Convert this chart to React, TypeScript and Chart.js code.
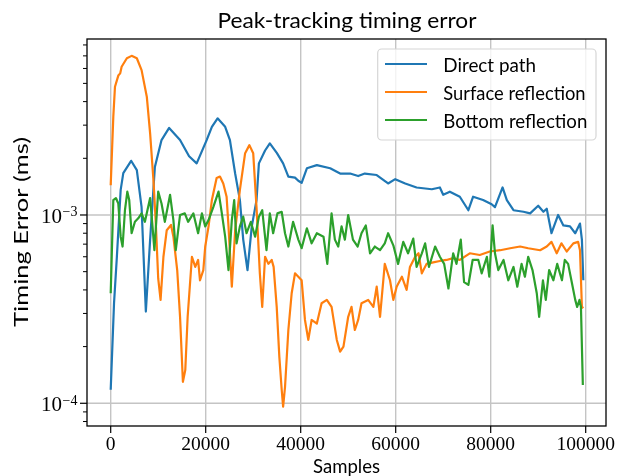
import React, { useEffect, useRef } from "react";
import { Chart, registerables } from "chart.js";

Chart.register(...registerables);

// ---------------- data ----------------
const directSamples = [
  0, 700, 1300, 2100, 2650, 4300, 5500, 6500, 7400, 8300, 9300, 10700, 12300, 14600, 16500,
  18100, 20200, 21300, 22500, 24100, 25100, 26200, 27200, 27900, 28800, 29700, 30700, 31200,
  32500, 33500, 35000, 36300, 37400, 38800, 39500, 40200, 41300, 43400, 46200, 48300, 50400,
  52100, 53500, 56000, 58400, 59900, 62000, 64400, 67600, 69300, 70000, 71400, 73500, 75300,
  76300, 78400, 80200, 80900, 82500, 83400, 84800, 86900, 88300, 90000, 91100, 91800, 92800,
  94200, 95300, 96700, 97800, 98800, 99200, 99500,
];
const directError = [
  1.18e-4, 3.4e-4, 6.0e-4, 1.36e-3, 1.67e-3, 1.94e-3, 1.73e-3, 1.1e-3, 3.07e-4, 7.4e-4, 1.8e-3,
  2.5e-3, 2.9e-3, 2.5e-3, 2.05e-3, 1.88e-3, 2.5e-3, 2.94e-3, 3.26e-3, 2.94e-3, 2.5e-3, 1.66e-3,
  1.2e-3, 7.4e-4, 5.1e-4, 8.7e-4, 1.2e-3, 1.88e-3, 2.2e-3, 2.4e-3, 2.13e-3, 1.88e-3, 1.6e-3,
  1.58e-3, 1.52e-3, 1.48e-3, 1.77e-3, 1.84e-3, 1.77e-3, 1.66e-3, 1.66e-3, 1.61e-3, 1.66e-3,
  1.63e-3, 1.47e-3, 1.55e-3, 1.47e-3, 1.4e-3, 1.37e-3, 1.4e-3, 1.28e-3, 1.33e-3, 1.25e-3,
  1.06e-3, 1.25e-3, 1.2e-3, 1.14e-3, 1.1e-3, 1.4e-3, 1.2e-3, 1.06e-3, 1.04e-3, 1.02e-3, 1.12e-3,
  1.04e-3, 1.08e-3, 8.0e-4, 1.0e-3, 8.8e-4, 8.7e-4, 8.0e-4, 9.0e-4, 7.4e-4, 4.5e-4,
];

const surfaceSamples = [
  0, 550, 900, 1600, 2000, 2300, 3400, 4400, 5500, 6500, 7600, 8300, 9000, 9500, 10000, 10500,
  11100, 11800, 12700, 13200, 14000, 14600, 15200, 15700, 16200, 17100, 17800, 18400, 18800,
  19500, 19900, 20600, 21300, 22300, 23000, 23700, 24400, 24800, 25500, 26200, 27200, 28300,
  29200, 30000, 30700, 31400, 31900, 32500, 33200, 33900, 34300, 34950, 35500, 36000, 36300,
  36700, 37400, 38100, 38800, 39500, 40200, 40900, 41600, 42300, 43400, 44400, 45500, 46500,
  47600, 48300, 49000, 50000, 50700, 51400, 52100, 52800, 54200, 55300, 56000, 56700, 57700,
  58800, 59500, 60200, 61300, 62300, 63000, 64100, 64800, 65500, 66500, 67900, 69300, 70700,
  72100, 73500, 75600, 77700, 79800, 82000, 84100, 86200, 87900, 90400, 91800, 92800, 93900,
  94900, 96000, 97400, 98400, 98800, 99200, 99500,
];
const surfaceError = [
  1.44e-3, 3.33e-3, 4.8e-3, 5.5e-3, 5.65e-3, 6.13e-3, 6.8e-3, 7.0e-3, 6.8e-3, 5.88e-3, 4.25e-3,
  2.71e-3, 1.53e-3, 9.0e-4, 4.6e-4, 3.54e-4, 6.0e-4, 8.3e-4, 8.85e-4, 7.67e-4, 5.1e-4, 2.88e-4,
  1.3e-4, 1.5e-4, 2.88e-4, 6.0e-4, 5.3e-4, 5.77e-4, 4.5e-4, 5.1e-4, 6.8e-4, 8.7e-4, 1.2e-3,
  1.57e-3, 1.6e-3, 1.47e-3, 1.25e-3, 8.7e-4, 4.16e-4, 8.3e-4, 1.36e-3, 2.13e-3, 2.35e-3, 2.13e-3,
  1.1e-3, 4.9e-4, 3.25e-4, 6.0e-4, 5.5e-4, 5.77e-4, 5.3e-4, 3.25e-4, 1.77e-4, 1.18e-4, 9.6e-5,
  1.22e-4, 2.45e-4, 3.84e-4, 4.9e-4, 4.7e-4, 4.5e-4, 2.77e-4, 2.17e-4, 2.77e-4, 2.65e-4, 3.4e-4,
  3.54e-4, 3.25e-4, 2.17e-4, 1.88e-4, 2.0e-4, 2.88e-4, 3.25e-4, 2.45e-4, 2.77e-4, 3.4e-4,
  3.54e-4, 3.25e-4, 4.16e-4, 2.88e-4, 5.5e-4, 4.5e-4, 3.54e-4, 4.16e-4, 4.7e-4, 4.0e-4, 5.3e-4,
  6.0e-4, 6.26e-4, 4.9e-4, 5.5e-4, 5.6e-4, 5.7e-4, 5.77e-4, 5.9e-4, 5.77e-4, 6.26e-4, 6.13e-4,
  6.4e-4, 6.5e-4, 6.66e-4, 6.8e-4, 6.66e-4, 6.5e-4, 6.8e-4, 7.2e-4, 6.26e-4, 7.07e-4, 6.4e-4,
  7.07e-4, 7.2e-4, 6.5e-4, 3.25e-4, 3.2e-4,
];

const bottomSamples = [
  0, 550, 1100, 1600, 2100, 2500, 3000, 3500, 3900, 4400, 5100, 5800, 6500, 7200, 8300, 8800,
  9200, 10000, 10700, 11400, 12500, 13200, 13700, 14600, 15600, 16300, 17400, 18400, 19200,
  19900, 20600, 21600, 22700, 23400, 24100, 24800, 25500, 26000, 26500, 27200, 27900, 28600,
  29500, 30400, 31200, 31900, 32800, 33500, 34200, 35100, 36000, 36700, 37400, 38400, 39500,
  40200, 41300, 42300, 43400, 44800, 45600, 46500, 47200, 47900, 48600, 49300, 50000, 51000,
  52000, 52800, 53700, 54600, 55600, 56700, 57700, 58400, 59500, 60500, 61600, 62600, 63700,
  64400, 65500, 66200, 67000, 68300, 69300, 70200, 71100, 72100, 72800, 73700, 74400, 75300,
  76200, 77400, 78100, 79200, 79700, 80400, 80900, 81600, 82700, 83700, 84800, 85600, 86500,
  87200, 87900, 88800, 89700, 90200, 91000, 91600, 92300, 93200, 94000, 95000, 95600, 96300,
  97100, 97800, 98200, 98700, 99000, 99400,
];
const bottomError = [
  3.84e-4, 1.2e-3, 1.23e-3, 1.15e-3, 7.67e-4, 6.8e-4, 1.06e-3, 1.33e-3, 1.2e-3, 8.0e-4, 9.2e-4,
  9.6e-4, 1.02e-3, 9.2e-4, 1.23e-3, 8.7e-4, 6.5e-4, 1.33e-3, 1.15e-3, 9.2e-4, 1.28e-3, 9.4e-4,
  6.5e-4, 1.0e-3, 1.02e-3, 9.2e-4, 1.02e-3, 8.0e-4, 1.02e-3, 8.7e-4, 9.4e-4, 1.1e-3, 1.33e-3,
  1.02e-3, 7.67e-4, 5.1e-4, 9.4e-4, 1.2e-3, 7.07e-4, 8.7e-4, 9.8e-4, 8.0e-4, 9.2e-4, 7.67e-4,
  9.8e-4, 1.06e-3, 6.5e-4, 1.02e-3, 8.0e-4, 1.02e-3, 1.04e-3, 8.0e-4, 6.8e-4, 9.2e-4, 7.4e-4,
  6.66e-4, 8.5e-4, 7.07e-4, 8.0e-4, 7.67e-4, 5.5e-4, 1.02e-3, 7.4e-4, 6.8e-4, 8.7e-4, 7.4e-4,
  1.0e-3, 7.4e-4, 6.8e-4, 8.0e-4, 8.8e-4, 6.26e-4, 6.8e-4, 6.5e-4, 7.07e-4, 8.0e-4, 6.9e-4,
  5.5e-4, 7.2e-4, 6.26e-4, 7.5e-4, 5.3e-4, 6.26e-4, 7.07e-4, 5.3e-4, 6.8e-4, 6.0e-4, 5.5e-4,
  4.07e-4, 6.26e-4, 5.5e-4, 7.4e-4, 4.4e-4, 4.25e-4, 5.77e-4, 5.77e-4, 4.9e-4, 6.0e-4, 4.7e-4,
  8.8e-4, 6.26e-4, 5.1e-4, 5.77e-4, 4.5e-4, 5.3e-4, 4.16e-4, 5.5e-4, 4.7e-4, 6.0e-4, 5.1e-4,
  3.84e-4, 2.88e-4, 4.5e-4, 3.54e-4, 5.1e-4, 4.5e-4, 5.5e-4, 4.5e-4, 5.77e-4, 5.5e-4, 4.35e-4,
  3.54e-4, 3.25e-4, 3.54e-4, 3.25e-4, 1.25e-4,
];

const seriesNames = ["Direct path", "Surface reflection", "Bottom reflection"];
const seriesColors = ["#1f77b4", "#ff7f0e", "#2ca02c"];

const xTickValues = [0, 20000, 40000, 60000, 80000, 100000];
const xTickLabels = ["0", "20000", "40000", "60000", "80000", "100000"];
const yMajorTicks = [1e-4, 1e-3];
const yTickExponents = ["\u22124", "\u22123"];
const yMinorTicks = [
  8e-5, 9e-5, 2e-4, 3e-4, 4e-4, 5e-4, 6e-4, 7e-4, 8e-4, 9e-4, 2e-3, 3e-3, 4e-3, 5e-3, 6e-3, 7e-3,
  8e-3,
];

const titleText = "Peak-tracking timing error";
const xLabelText = "Samples";
const yLabelText = "Timing Error (ms)";

// ---------------- drawing helpers ----------------
const SANS = "Lato, 'DejaVu Sans', sans-serif";
const SERIF = "'Liberation Serif', 'DejaVu Serif', serif";

function fitText(
  ctx: CanvasRenderingContext2D,
  text: string,
  x: number,
  y: number,
  font: string,
  width: number,
  align: CanvasTextAlign,
  rotate = 0
) {
  ctx.save();
  ctx.font = font;
  const w = ctx.measureText(text).width;
  const sx = width / w;
  ctx.translate(x, y);
  if (rotate) ctx.rotate(rotate);
  ctx.scale(sx, 1);
  ctx.textAlign = align;
  ctx.textBaseline = "alphabetic";
  ctx.fillStyle = "#000";
  ctx.fillText(text, 0, 0);
  ctx.restore();
}

const mplPlugin = {
  id: "mplAxes",
  beforeDatasetsDraw(chart: any) {
    const { ctx, chartArea: a, scales } = chart;
    const xs = scales.x;
    const ys = scales.y;
    ctx.save();
    ctx.strokeStyle = "#c4c4c4";
    ctx.lineWidth = 1.4;
    for (const v of xTickValues) {
      const px = xs.getPixelForValue(v);
      ctx.beginPath();
      ctx.moveTo(px, a.top);
      ctx.lineTo(px, a.bottom);
      ctx.stroke();
    }
    for (const v of yMajorTicks) {
      const py = ys.getPixelForValue(v);
      ctx.beginPath();
      ctx.moveTo(a.left, py);
      ctx.lineTo(a.right, py);
      ctx.stroke();
    }
    ctx.restore();
  },
  afterDatasetsDraw(chart: any) {
    const { ctx, chartArea: a, scales } = chart;
    const xs = scales.x;
    const ys = scales.y;
    ctx.save();
    // spines
    ctx.strokeStyle = "#000";
    ctx.lineWidth = 1.3;
    ctx.strokeRect(a.left, a.top, a.right - a.left, a.bottom - a.top);
    // x ticks
    ctx.lineWidth = 1.2;
    ctx.font = `19.5px ${SERIF}`;
    ctx.fillStyle = "#000";
    ctx.textAlign = "center";
    ctx.textBaseline = "alphabetic";
    xTickValues.forEach((v, i) => {
      const px = xs.getPixelForValue(v);
      ctx.beginPath();
      ctx.moveTo(px, a.bottom);
      ctx.lineTo(px, a.bottom + 7);
      ctx.stroke();
      ctx.fillText(xTickLabels[i], px, 450);
    });
    // y major ticks + labels
    yMajorTicks.forEach((v, i) => {
      const py = ys.getPixelForValue(v);
      ctx.beginPath();
      ctx.moveTo(a.left, py);
      ctx.lineTo(a.left - 7, py);
      ctx.stroke();
      const right = 77.5;
      ctx.font = `14px ${SERIF}`;
      ctx.textAlign = "right";
      const expW = ctx.measureText(yTickExponents[i]).width;
      ctx.fillText(yTickExponents[i], right, py + 1.5);
      ctx.font = `21px ${SERIF}`;
      ctx.fillText("10", right - expW - 0.5, py + 7.8);
    });
    // y minor ticks
    ctx.lineWidth = 1.0;
    for (const v of yMinorTicks) {
      const py = ys.getPixelForValue(v);
      ctx.beginPath();
      ctx.moveTo(a.left, py);
      ctx.lineTo(a.left - 4, py);
      ctx.stroke();
    }
    ctx.restore();

    // titles
    fitText(ctx, titleText, 347, 28.3, `21.5px ${SANS}`, 259, "center");
    fitText(ctx, xLabelText, 346.5, 473.3, `19.5px ${SANS}`, 67, "center");
    fitText(ctx, yLabelText, 28.3, 232, `19.5px ${SANS}`, 190, "center", -Math.PI / 2);

    // legend
    ctx.save();
    const lx = 377.7, ly = 49, lw = 218.3, lh = 91, r = 4;
    ctx.beginPath();
    ctx.moveTo(lx + r, ly);
    ctx.arcTo(lx + lw, ly, lx + lw, ly + lh, r);
    ctx.arcTo(lx + lw, ly + lh, lx, ly + lh, r);
    ctx.arcTo(lx, ly + lh, lx, ly, r);
    ctx.arcTo(lx, ly, lx + lw, ly, r);
    ctx.closePath();
    ctx.fillStyle = "rgba(255,255,255,0.8)";
    ctx.fill();
    ctx.strokeStyle = "#d6d6d6";
    ctx.lineWidth = 1.2;
    ctx.stroke();
    const legendWidths = [92.7, 142.3, 144];
    seriesNames.forEach((name, i) => {
      const yy = 64 + i * 28;
      ctx.strokeStyle = seriesColors[i];
      ctx.lineWidth = 2.2;
      ctx.beginPath();
      ctx.moveTo(385, yy);
      ctx.lineTo(427, yy);
      ctx.stroke();
      fitText(ctx, name, 443.3, yy + 8.3, `19.5px ${SANS}`, legendWidths[i], "left");
    });
    ctx.restore();
  },
};

export default function App() {
  const canvasRef = useRef<HTMLCanvasElement | null>(null);

  useEffect(() => {
    if (!canvasRef.current) return;
    const sampleSets = [directSamples, surfaceSamples, bottomSamples];
    const errorSets = [directError, surfaceError, bottomError];
    const chart = new Chart(canvasRef.current, {
      type: "line",
      data: {
        datasets: seriesNames.map((name, i) => ({
          label: name,
          data: sampleSets[i].map((s, j) => ({ x: s, y: errorSets[i][j] })),
          borderColor: seriesColors[i],
          backgroundColor: seriesColors[i],
          borderWidth: 2.2,
          pointRadius: 0,
          fill: false,
          tension: 0,
          borderJoinStyle: "round" as const,
          order: 3 - i,
        })),
      },
      options: {
        responsive: false,
        animation: false,
        devicePixelRatio: 1,
        events: [],
        layout: { padding: { left: 87, top: 39, right: 16, bottom: 50 } },
        scales: {
          x: { type: "linear", min: -4990, max: 104275, display: false },
          y: { type: "logarithmic", min: 7.574e-5, max: 8.603e-3, display: false },
        },
        plugins: {
          legend: { display: false },
          title: { display: false },
          tooltip: { enabled: false },
        },
      },
      plugins: [mplPlugin],
    });
    return () => chart.destroy();
  }, []);

  return (
    <div style={{ position: "absolute", left: 0, top: 0, width: 622, height: 476, background: "#fff" }}>
      <canvas ref={canvasRef} width={622} height={476} style={{ width: 622, height: 476, display: "block" }} />
    </div>
  );
}
